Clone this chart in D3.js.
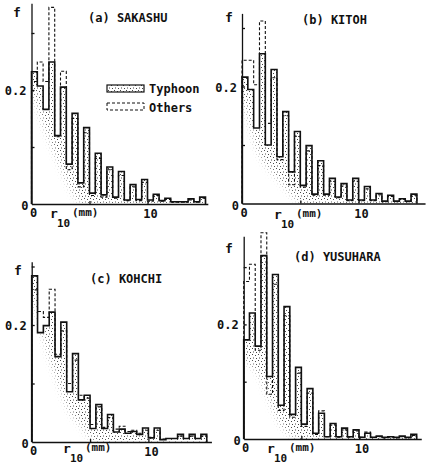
<!DOCTYPE html>
<html lang="en">
<head>
<meta charset="UTF-8">
<title>Rain intensity histograms: typhoon and other rains</title>
<script src="https://d3js.org/d3.v7.min.js"></script>
<style>
  body { margin: 0; background: #fff; }
  svg { display: block; background: #fff; }
  text { font-family: "DejaVu Sans Mono", monospace; fill: #111; font-weight: bold; }
</style>
</head>
<body>
<svg width="427" height="468"></svg>
<script>
// bins are 0.5 mm wide, starting at r10 = 0
const binWidth = 0.5;

const typhoonA = [0.232,0.207,0.166,0.249,0.120,0.205,0.070,0.159,0.037,0.134,0.019,0.089,0.016,0.065,0.012,0.057,0.007,0.034,0.008,0.043,0.007,0.017,0.006,0.010,0.004,0.004,0.004,0.009,0.004,0.012];
const othersA  = [0.215,0.249,0.215,0.345,0.118,0.233,0.060,0.150,0.030,0.125,0.015,0.080,0.012,0.060,0.010,0.050,0.006,0.030,0.006,0.038,0.005,0.015,0.005,0.008,0.003,0.003,0.003,0.007,0.003,0.010];

const typhoonB = [0.216,0.195,0.129,0.256,0.100,0.229,0.080,0.157,0.054,0.123,0.031,0.099,0.016,0.073,0.016,0.043,0.011,0.034,0.006,0.043,0.006,0.029,0.006,0.017,0.004,0.014,0.004,0.008,0.004,0.016];
const othersB  = [0.245,0.245,0.203,0.312,0.137,0.215,0.075,0.150,0.032,0.115,0.028,0.090,0.014,0.065,0.014,0.038,0.010,0.030,0.005,0.038,0.005,0.025,0.005,0.015,0.003,0.012,0.003,0.007,0.003,0.014];

const typhoonC = [0.284,0.187,0.199,0.222,0.146,0.205,0.086,0.151,0.072,0.080,0.023,0.064,0.023,0.047,0.017,0.022,0.015,0.018,0.013,0.024,0.007,0.024,0.004,0.006,0.006,0.013,0.006,0.013,0.006,0.013];
const othersC  = [0.260,0.223,0.213,0.261,0.150,0.190,0.100,0.140,0.080,0.075,0.030,0.060,0.025,0.042,0.022,0.027,0.018,0.020,0.015,0.020,0.008,0.020,0.005,0.006,0.006,0.010,0.006,0.010,0.006,0.010];

const typhoonD = [0.173,0.220,0.162,0.320,0.109,0.287,0.059,0.231,0.043,0.125,0.026,0.088,0.010,0.045,0.004,0.027,0.004,0.019,0.004,0.016,0.003,0.010,0.003,0.005,0.003,0.004,0.003,0.005,0.003,0.008];
const othersD  = [0.275,0.305,0.155,0.360,0.078,0.270,0.050,0.215,0.038,0.115,0.022,0.080,0.008,0.049,0.004,0.024,0.003,0.016,0.003,0.014,0.003,0.012,0.003,0.004,0.002,0.003,0.002,0.004,0.002,0.006];

const yTicks = [0.1, 0.2, 0.3];
const xTicks = [5, 10];
const legendLabels = ["Typhoon", "Others"];

const panels = [
  {title: "(a) SAKASHU", typhoon: typhoonA, others: othersA,
   x0: 31.5, base: 204, pxMm: 11.6, pxTenth: 57, yTop: 0.352, xEnd: 15.2,
   titleXY: [88, 22], fXY: [13, 17], rXY: [50, 218], legend: true},
  {title: "(b) KITOH", typhoon: typhoonB, others: othersB,
   x0: 242, base: 203.5, pxMm: 11.66, pxTenth: 58.5, yTop: 0.325, xEnd: 15.7,
   titleXY: [302, 24], fXY: [225, 22], rXY: [274, 219]},
  {title: "(c) KOHCHI", typhoon: typhoonC, others: othersC,
   x0: 31.7, base: 442, pxMm: 11.67, pxTenth: 58.5, yTop: 0.308, xEnd: 15.4,
   titleXY: [90, 283], fXY: [14, 275], rXY: [63, 453]},
  {title: "(d) YUSUHARA", typhoon: typhoonD, others: othersD,
   x0: 243.7, base: 439, pxMm: 11.53, pxTenth: 57.3, yTop: 0.354, xEnd: 15.4,
   titleXY: [294, 261], fXY: [225, 253], rXY: [267, 453]}
];

const svg = d3.select("svg");
const defs = svg.append("defs");

// grainy stipple used for the typhoon histograms
const pat = defs.append("pattern")
    .attr("id", "stipple")
    .attr("patternUnits", "userSpaceOnUse")
    .attr("width", 6).attr("height", 6);
[[0,0],[3,1],[1,3.5],[4,4]].forEach(([px, py]) => {
  pat.append("rect").attr("x", px).attr("y", py)
      .attr("width", 1).attr("height", 1).attr("fill", "#444");
});

// soft edge for the stippled band
defs.append("filter").attr("id", "soft")
    .attr("x", "-20%").attr("y", "-20%").attr("width", "140%").attr("height", "140%")
  .append("feGaussianBlur").attr("stdDeviation", 3.5);

panels.forEach((p, i) => {
  const x = d3.scaleLinear().domain([0, 1]).range([p.x0, p.x0 + p.pxMm]);
  const y = d3.scaleLinear().domain([0, 0.1]).range([p.base, p.base - p.pxTenth]);
  const g = svg.append("g");

  const toPts = vals => {
    const pts = vals.map((v, k) => [k * binWidth, v]);
    pts.push([vals.length * binWidth, vals[vals.length - 1]]);
    return pts;
  };

  const stepLine = vals => {
    const pts = [[0, 0], ...toPts(vals), [vals.length * binWidth, 0]];
    return d3.line().curve(d3.curveStepAfter)
        .x(d => x(d[0])).y(d => y(d[1]))(pts);
  };

  // stipple only in a band under the low-bin envelope (the scan fades below)
  const lows = p.typhoon.map((v, k) => [k * binWidth + binWidth / 2, v])
      .filter((d, k) => k % 2 === 0)
      .map(d => [d[0], Math.max(0, d[1] - 0.036)]);
  lows.unshift([-0.5, lows[0][1] + 0.02]);
  lows.push([p.typhoon.length * binWidth + 1, 0]);
  const mask = defs.append("mask").attr("id", "band" + i)
      .attr("maskUnits", "userSpaceOnUse")
      .attr("x", 0).attr("y", 0).attr("width", 427).attr("height", 468);
  mask.append("path")
      .attr("d", d3.area().curve(d3.curveBasis)
          .x(d => x(d[0])).y0(y(0.45)).y1(d => y(d[1]) + 2)(lows))
      .attr("fill", "#fff")
      .attr("filter", "url(#soft)");

  g.append("path")
      .attr("d", d3.area().curve(d3.curveStepAfter)
          .x(d => x(d[0])).y0(y(0)).y1(d => y(d[1]))(toPts(p.typhoon)))
      .attr("fill", "url(#stipple)")
      .attr("mask", `url(#band${i})`);

  g.append("path")
      .attr("d", stepLine(p.others))
      .attr("fill", "none").attr("stroke", "#111")
      .attr("stroke-width", 1.1).attr("stroke-dasharray", "3,2");

  g.append("path")
      .attr("d", stepLine(p.typhoon))
      .attr("fill", "none").attr("stroke", "#111")
      .attr("stroke-width", 1.6).attr("stroke-linejoin", "miter");

  // axes: ticks point inwards, labels placed by hand like the original
  const yAxisScale = d3.scaleLinear().domain([0, p.yTop])
      .range([y(0), y(p.yTop)]);
  g.append("g").attr("transform", `translate(${p.x0},0)`)
      .call(d3.axisRight(yAxisScale).tickValues(yTicks).tickSize(3)
          .tickSizeOuter(0).tickFormat(""))
      .call(s => s.selectAll("path,line").attr("stroke", "#111").attr("stroke-width", 1.3));

  const xAxisScale = d3.scaleLinear().domain([0, p.xEnd])
      .range([x(0), x(p.xEnd)]);
  g.append("g").attr("transform", `translate(0,${p.base})`)
      .call(d3.axisTop(xAxisScale).tickValues(xTicks).tickSize(3)
          .tickSizeOuter(0).tickFormat(""))
      .call(s => s.selectAll("path,line").attr("stroke", "#111").attr("stroke-width", 1.3));

  g.append("text").attr("x", p.x0 - 5).attr("y", y(0.2) + 5)
      .attr("text-anchor", "end").attr("font-size", 12).text("0.2");
  g.append("text").attr("x", p.x0 - 3).attr("y", p.base + 6)
      .attr("text-anchor", "end").attr("font-size", 12).text("0");
  g.append("text").attr("x", x(0) + 2).attr("y", p.base + 13)
      .attr("text-anchor", "middle").attr("font-size", 12).text("0");
  g.append("text").attr("x", x(10) + 3).attr("y", p.base + 14)
      .attr("text-anchor", "middle").attr("font-size", 12).text("10");

  g.append("text").attr("x", p.fXY[0]).attr("y", p.fXY[1])
      .attr("font-size", 13).text("f");
  g.append("text").attr("x", p.titleXY[0]).attr("y", p.titleXY[1])
      .attr("font-size", 12).text(p.title);

  // r10(mm) as three separate pieces at whole-pixel positions
  const [rx, ry] = p.rXY;
  g.append("text").attr("x", rx).attr("y", ry).attr("font-size", 13).text("r");
  g.append("text").attr("x", rx + 7).attr("y", ry + 9).attr("font-size", 11).text("10");
  g.append("text").attr("x", rx + 22).attr("y", ry - 2).attr("font-size", 11).text("(mm)");

  if (p.legend) {
    const lx = 107, lw = 37;
    g.append("rect").attr("x", lx).attr("y", 85).attr("width", lw).attr("height", 7)
        .attr("fill", "url(#stipple)").attr("stroke", "#111").attr("stroke-width", 1.2);
    g.append("rect").attr("x", lx).attr("y", 103).attr("width", lw).attr("height", 7)
        .attr("fill", "none").attr("stroke", "#111").attr("stroke-width", 1)
        .attr("stroke-dasharray", "3,2");
    g.append("text").attr("x", lx + lw + 5).attr("y", 93)
        .attr("font-size", 12).text(legendLabels[0]);
    g.append("text").attr("x", lx + lw + 5).attr("y", 112)
        .attr("font-size", 12).text(legendLabels[1]);
  }
});
</script>
</body>
</html>
